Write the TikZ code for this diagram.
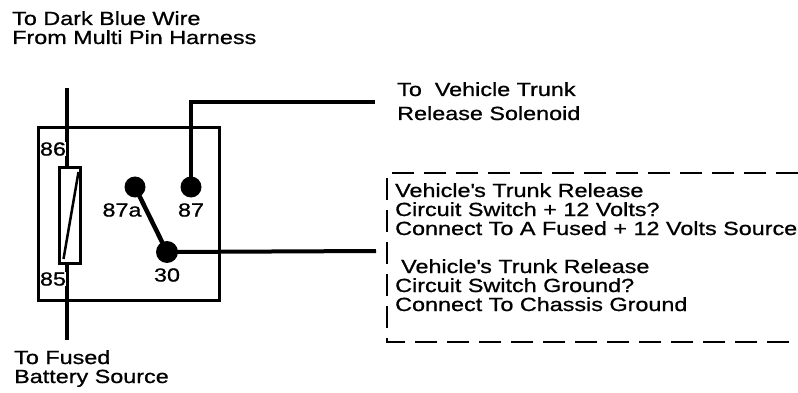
\documentclass[tikz,border=0pt]{standalone}
\usepackage{fontspec}
\setmainfont{Liberation Sans}[FakeStretch=1.23,FakeBold=0.9]
\begin{document}
\begin{tikzpicture}[x=1pt,y=-1pt,
  lbl/.style={inner sep=0pt,font=\fontsize{19}{19}\selectfont,align=left},
  wire/.style={line width=4pt},
  boxline/.style={line width=3pt},
  dot/.style={circle,fill=black,inner sep=0pt,minimum size=21pt},
  dashbox/.style={line width=2.8pt,dash pattern=on 22pt off 10pt}]
\useasboundingbox (0,0) rectangle (798,393);
% coil wire
\coordinate (wtop) at (67,88);
\coordinate (wbot) at (67,340);
\draw[wire] (wtop) -- (wbot);
% relay box
\draw[boxline] (38,128) rectangle (219,300);
% coil
\node[draw,boxline,fill=white,minimum width=21pt,minimum height=96pt,inner sep=0pt] (coil) at (70,215.5) {};
\draw[line width=2.5pt] (63.5,259) -- (78.5,172);
% pin labels
\node[lbl,fill=white,inner sep=0.5pt] (l86) at (53,149) {86};
\node[lbl,fill=white,inner sep=0.5pt] (l85) at (53,279) {85};
% contacts
\node[dot] (p87a) at (135,187) {};
\node[dot] (p87) at (191,187) {};
\node[dot,minimum size=22pt] (p30) at (167,252) {};
\node[lbl] (l87a) at (122,210) {87a};
\node[lbl] (l87) at (191,210) {87};
\node[lbl] (l30) at (167,275) {30};
\draw[line width=4.5pt] (p87a.center) -- (p30.center);
% wires out
\coordinate (e30) at (376,251);
\coordinate (e87) at (375,102);
\draw[wire] (p30.center) -- (e30);
\draw[wire] (p87.center) |- (e87);
% texts (anchor base = baseline of last line)
\node[lbl,anchor=base west] (ttop) at (12,44) {To Dark Blue Wire\\From Multi Pin Harness};
\node[lbl,anchor=base west] (tbot) at (14,383) {To Fused\\Battery Source};
\node[lbl,anchor=base west,font=\fontsize{19}{24}\selectfont] (tsol) at (397,120) {To\ \ Vehicle Trunk\\Release Solenoid};
% dashed box
\draw[dashbox] (798,173) -- (387,173) -- (387,342) -- (798,342);
\node[lbl,anchor=base west] (tsw1) at (395,235) {Vehicle\textquotesingle s Trunk Release\\Circuit Switch + 12 Volts?\\Connect To A Fused + 12 Volts Source};
\node[lbl,anchor=base west] (tsw2) at (395,311) {\hspace{6pt}Vehicle\textquotesingle s Trunk Release\\Circuit Switch Ground?\\Connect To Chassis Ground};
\end{tikzpicture}
\end{document}
